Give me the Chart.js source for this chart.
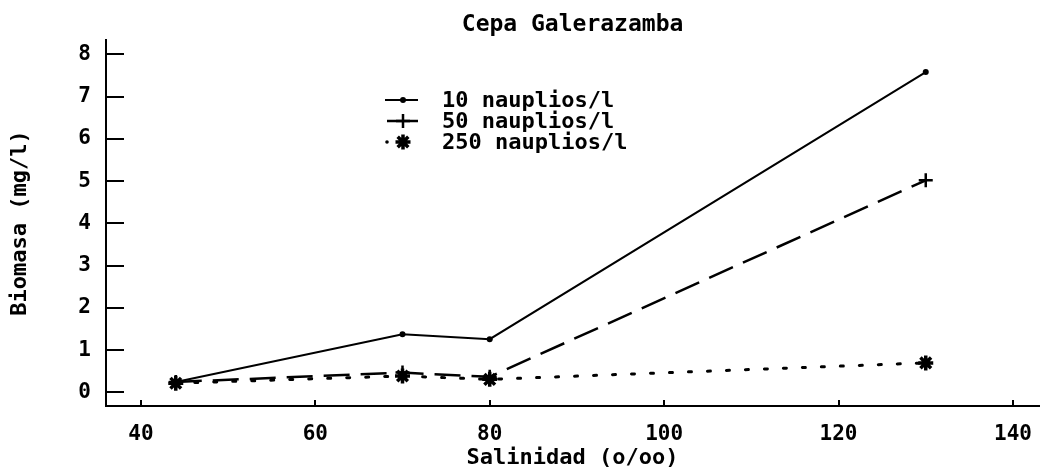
<!DOCTYPE html>
<html>
<head>
<meta charset="utf-8">
<script src="https://cdn.jsdelivr.net/npm/chart.js@4/dist/chart.umd.min.js"></script>
<style>
  html, body { margin: 0; padding: 0; background: #fff; }
  #wrap { width: 1042px; height: 469px; }
</style>
</head>
<body>
<div id="wrap"><canvas id="c" width="1042" height="469"></canvas></div>
<script>
// data
const salinidad = [44, 70, 80, 130];
const n10 = [0.25, 1.38, 1.26, 7.58];
const n50 = [0.25, 0.47, 0.37, 5.02];
const n250 = [0.22, 0.39, 0.31, 0.70];
const xTicks = [40, 60, 80, 100, 120, 140];
const yTicks = [0, 1, 2, 3, 4, 5, 6, 7, 8];
const seriesNames = ['10 nauplios/l', '50 nauplios/l', '250 nauplios/l'];

const FONT = '"DejaVu Sans Mono", "Liberation Mono", monospace';
const pts = (ys) => salinidad.map((x, i) => ({ x: x, y: ys[i] }));

// small hand-drawn markers, also used in the legend
function marker(ctx, kind, x, y) {
  ctx.save();
  ctx.setLineDash([]);
  ctx.strokeStyle = '#000';
  ctx.fillStyle = '#000';
  if (kind === 'dot') {
    ctx.beginPath(); ctx.arc(x, y, 3, 0, Math.PI * 2); ctx.fill();
  } else if (kind === 'plus') {
    ctx.lineWidth = 2.5;
    ctx.beginPath();
    ctx.moveTo(x - 7, y); ctx.lineTo(x + 7, y);
    ctx.moveTo(x, y - 7); ctx.lineTo(x, y + 7);
    ctx.stroke();
  } else if (kind === 'star') {
    ctx.lineWidth = 3.5;
    ctx.beginPath();
    for (let k = 0; k < 4; k++) {
      const a = k * Math.PI / 4;
      ctx.moveTo(x - 7.5 * Math.cos(a), y - 7.5 * Math.sin(a));
      ctx.lineTo(x + 7.5 * Math.cos(a), y + 7.5 * Math.sin(a));
    }
    ctx.stroke();
  }
  ctx.restore();
}

const styles = [
  { dash: [], width: 2, mark: 'dot' },
  { dash: [26, 11], width: 2.5, mark: 'plus' },
  { dash: [3, 16], width: 3, mark: 'star' }
];

const markerPlugin = {
  id: 'markers',
  afterDatasetsDraw(chart) {
    const { ctx, scales: { x, y } } = chart;
    // draw plus first, then stars over them, dots last
    [1, 2, 0].forEach(i => {
      chart.data.datasets[i].data.forEach(p => {
        marker(ctx, styles[i].mark, x.getPixelForValue(p.x), y.getPixelForValue(p.y));
      });
    });
  }
};

const inwardTicks = {
  id: 'inwardTicks',
  afterDraw(chart) {
    const { ctx, chartArea: a, scales: { x, y } } = chart;
    ctx.save();
    ctx.strokeStyle = '#000';
    ctx.lineWidth = 2;
    ctx.beginPath();
    yTicks.forEach(v => {
      const py = Math.round(y.getPixelForValue(v));
      ctx.moveTo(a.left, py); ctx.lineTo(a.left + 18, py);
    });
    xTicks.forEach(v => {
      const px = Math.round(x.getPixelForValue(v));
      ctx.moveTo(px, a.bottom); ctx.lineTo(px, a.bottom - 6);
    });
    ctx.stroke();
    ctx.restore();
  }
};

const legendBox = {
  id: 'legendBox',
  afterDraw(chart) {
    const ctx = chart.ctx;
    const rows = [100, 121, 142];
    ctx.save();
    seriesNames.forEach((name, i) => {
      const ly = rows[i];
      ctx.strokeStyle = '#000';
      ctx.lineWidth = styles[i].width;
      if (i === 2) {
        ctx.fillStyle = '#000';
        ctx.beginPath(); ctx.arc(387, ly, 1.8, 0, Math.PI * 2); ctx.fill();
      } else {
        ctx.setLineDash([]);
        ctx.beginPath();
        ctx.moveTo(i === 0 ? 385 : 387, ly);
        ctx.lineTo(418, ly);
        ctx.stroke();
      }
      marker(ctx, styles[i].mark, 403, ly);
      ctx.fillStyle = '#000';
      ctx.font = 'bold 22px ' + FONT;
      ctx.textBaseline = 'middle';
      ctx.textAlign = 'left';
      ctx.fillText(name, 442, ly + 1);
    });
    ctx.restore();
  }
};

new Chart(document.getElementById('c').getContext('2d'), {
  type: 'line',
  data: {
    datasets: [n10, n50, n250].map((ys, i) => ({
      label: seriesNames[i],
      data: pts(ys),
      borderColor: '#000',
      borderWidth: styles[i].width,
      borderDash: styles[i].dash,
      borderCapStyle: i === 2 ? 'round' : 'butt',
      pointRadius: 0,
      fill: false,
      tension: 0
    }))
  },
  options: {
    responsive: false,
    animation: false,
    layout: { padding: { left: 0, right: 2, top: 0, bottom: 0 } },
    plugins: {
      legend: { display: false },
      tooltip: { enabled: false },
      title: {
        display: true,
        text: 'Cepa Galerazamba',
        fullSize: false,
        color: '#000',
        font: { family: FONT, size: 23, weight: 'bold', lineHeight: 1 },
        padding: { top: 14, bottom: 3 }
      }
    },
    scales: {
      x: {
        type: 'linear',
        min: 36,
        max: 143,
        afterBuildTicks: s => { s.ticks = xTicks.map(v => ({ value: v })); },
        afterFit: s => { s.height = 63; },
        grid: { display: false },
        border: { display: true, color: '#000', width: 2 },
        ticks: { color: '#000', padding: 10, font: { family: FONT, size: 21, weight: 'bold', lineHeight: 1 } },
        title: {
          display: true,
          text: 'Salinidad (o/oo)',
          color: '#000',
          font: { family: FONT, size: 22, weight: 'bold', lineHeight: 1 },
          padding: { top: 0, bottom: 0 }
        }
      },
      y: {
        min: -0.32,
        max: 8.34,
        afterBuildTicks: s => { s.ticks = yTicks.map(v => ({ value: v })); },
        afterFit: s => { s.width = 106; },
        grid: { display: false },
        border: { display: true, color: '#000', width: 2 },
        ticks: { color: '#000', padding: 7, font: { family: FONT, size: 21, weight: 'bold', lineHeight: 1 } },
        title: {
          display: true,
          text: 'Biomasa (mg/l)',
          color: '#000',
          font: { family: FONT, size: 22, weight: 'bold', lineHeight: 1 },
          padding: { top: 9, bottom: 0 }
        }
      }
    }
  },
  plugins: [markerPlugin, inwardTicks, legendBox]
});
</script>
</body>
</html>
